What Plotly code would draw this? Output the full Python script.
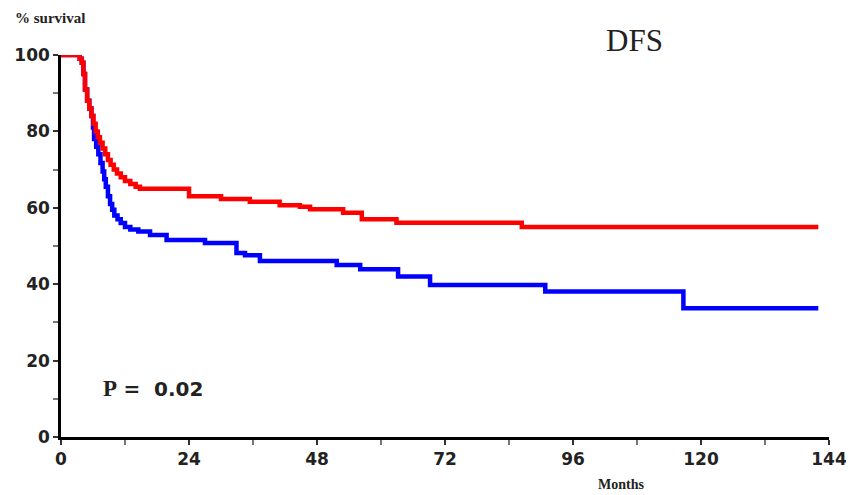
import plotly.graph_objects as go

# Kaplan-Meier step data (months, % survival)
red_months = [0, 3.5, 3.9, 4.2, 4.5, 4.9, 5.3, 5.7, 6.1, 6.5, 6.9, 7.3, 7.8, 8.3, 8.8, 9.3, 9.9, 10.5, 11.2, 12.0, 13.0, 14.0, 14.8,
              24.0, 30.0, 35.4, 41.0, 44.8, 46.7, 52.9, 56.4, 62.9, 86.4, 142.0]
red_surv = [100, 99, 98, 95, 91, 88, 86, 84, 82, 80, 78.5, 77, 75.5, 74, 72.5, 71.3, 70, 69, 68, 67, 66.2, 65.5, 65.0,
            63.0, 62.3, 61.6, 60.7, 60.3, 59.6, 58.7, 57.0, 56.1, 55.0, 55.0]

blue_months = [0, 3.5, 3.9, 4.2, 4.5, 4.9, 5.3, 5.7, 6.0, 6.2, 6.6, 7.0, 7.4, 7.8, 8.1, 8.4, 8.8, 9.2, 9.6, 10.0, 10.6, 11.2, 12.0, 13.0, 14.5,
               16.7, 19.8, 27.0, 32.9, 34.5, 37.3, 51.7, 56.1, 63.2, 69.2, 90.8, 116.7, 142.0]
blue_surv = [100, 99, 98, 95, 91, 88, 86, 84, 81, 78, 76, 74, 71.7, 69.5, 67.5, 65.5, 63, 61, 59.5, 58, 57, 56, 55, 54.3, 53.8,
             52.9, 51.6, 50.8, 48.2, 47.6, 46.1, 45.0, 43.9, 42.0, 39.8, 38.1, 33.7, 33.7]

x_ticks = [0, 24, 48, 72, 96, 120, 144]
y_ticks = [0, 20, 40, 60, 80, 100]

fig = go.Figure()
fig.add_trace(go.Scatter(x=blue_months, y=blue_surv, mode="lines", line_shape="hv",
                         line=dict(color="#0000ff", width=4.5), cliponaxis=False, showlegend=False))
fig.add_trace(go.Scatter(x=red_months, y=red_surv, mode="lines", line_shape="hv",
                         line=dict(color="#ff0000", width=4.5), cliponaxis=False, showlegend=False))

tickfont = dict(family="DejaVu Sans, Liberation Sans, sans-serif", size=17, color="#222", weight="bold")
fig.update_xaxes(range=[0, 144], tickvals=x_ticks, ticktext=[str(v) for v in x_ticks], automargin=False,
                 ticklabeloverflow="allow",
                 showline=True, linecolor="black", linewidth=2.5, ticks="outside", ticklen=5,
                 tickwidth=2, tickcolor="#333", showgrid=False, zeroline=False, tickfont=tickfont,
                 minor=dict(dtick=12, tick0=0, ticks="outside", ticklen=5, tickwidth=2, tickcolor="#777"))
fig.update_yaxes(range=[0, 100], tickvals=y_ticks, ticktext=[str(v) for v in y_ticks], automargin=False,
                 ticklabeloverflow="allow",
                 showline=True, linecolor="black", linewidth=2.5, ticks="outside", ticklen=5,
                 tickwidth=2, tickcolor="#333", showgrid=False, zeroline=False, tickfont=tickfont,
                 minor=dict(dtick=10, tick0=0, ticks="outside", ticklen=5, tickwidth=2, tickcolor="#777"))

serif = "Liberation Serif, Times New Roman, serif"
ann = dict(xref="paper", yref="paper", xanchor="center", yanchor="middle", showarrow=False)
fig.update_layout(
    width=846, height=487,
    margin=dict(l=53, r=25, t=47, b=58),
    plot_bgcolor="white", paper_bgcolor="white",
    annotations=[
        dict(text="<b>% survival</b>", x=-0.0143, y=1.097,
             font=dict(family=serif, size=15, color="#222"), **ann),
        dict(text="DFS", x=0.747, y=1.039,
             font=dict(family=serif, size=31, color="#222"), **ann),
        dict(text="<span style='font-family:Liberation Serif;font-size:23px'><b>P</b></span> <b>=  0.02</b>",
             x=0.120, y=0.128,
             font=dict(family="DejaVu Sans, sans-serif", size=20, color="#222"), **ann),
        dict(text="<b>Months</b>", x=0.729, y=-0.124,
             font=dict(family=serif, size=14, color="#222"), **ann),
    ],
)

fig.write_html("out.html")
